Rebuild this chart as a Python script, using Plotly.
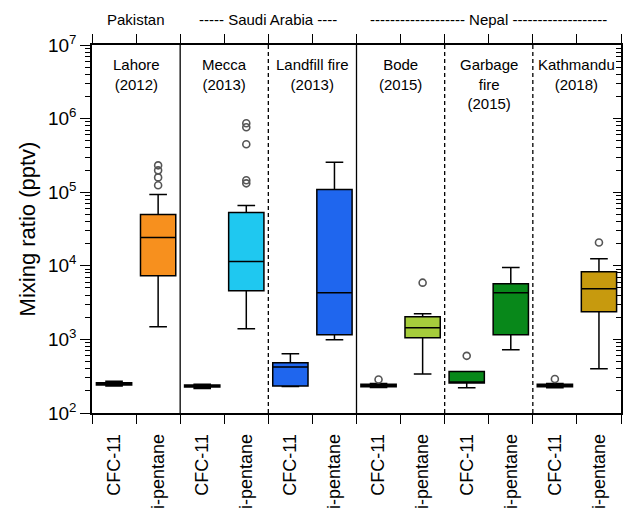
import plotly.graph_objects as go

# Sampling sites (one panel each) and the two species measured at every site
sites = ["Lahore", "Mecca", "Landfill fire", "Bode", "Garbage fire", "Kathmandu"]
site_labels = ["Lahore<br>(2012)", "Mecca<br>(2013)", "Landfill fire<br>(2013)",
               "Bode<br>(2015)", "Garbage<br>fire<br>(2015)", "Kathmandu<br>(2018)"]
species = ["CFC-11", "i-pentane"]
site_colors = ["#F7901E", "#1FC8F0", "#1F66EE", "#A6CD3C", "#08881A", "#C79A0E"]

# Country headers above the panels
countries = ["Pakistan", "----- Saudi Arabia ----",
             "------------------- Nepal -------------------"]
country_centers = [1, 4, 9]

# CFC-11 box statistics (pptv)
cfc_lo = [232, 215, 230, 222, 220, 220]
cfc_q1 = [240, 225, 233, 228, 255, 228]
cfc_med = [250, 232, 423, 236, 262, 236]
cfc_q3 = [258, 240, 480, 245, 365, 245]
cfc_hi = [270, 245, 637, 252, 365, 252]
cfc_out = [[], [], [], [285], [598], [290]]

# i-pentane box statistics (pptv)
pen_lo = [1485, 1390, 988, 340, 722, 398]
pen_q1 = [7350, 4590, 1156, 1050, 1156, 2380]
pen_med = [24200, 11400, 4320, 1440, 4310, 4890]
pen_q3 = [49900, 53100, 109000, 2030, 5720, 8330]
pen_hi = [93300, 66100, 255000, 2230, 9450, 12500]
pen_out = [[231800, 198000, 159000, 124000],
           [865000, 764000, 448000, 145000, 132000],
           [], [5900], [], [20700]]

# Panel separators: position and line style
dividers = [2, 4, 6, 8, 10]
divider_dash = ["solid", "dash", "solid", "dash", "dash"]

fig = go.Figure()

for i, site in enumerate(sites):
    stats = [
        (cfc_lo[i], cfc_q1[i], cfc_med[i], cfc_q3[i], cfc_hi[i], cfc_out[i]),
        (pen_lo[i], pen_q1[i], pen_med[i], pen_q3[i], pen_hi[i], pen_out[i]),
    ]
    for j, (lo, q1, med, q3, hi, out) in enumerate(stats):
        xpos = 2 * i + j + 0.5
        fig.add_trace(go.Box(
            x=[xpos], q1=[q1], median=[med], q3=[q3],
            lowerfence=[lo], upperfence=[hi],
            width=0.8, whiskerwidth=0.5, boxpoints=False,
            fillcolor=site_colors[i],
            line=dict(color="black", width=1.5),
            name=f"{site} {species[j]}", showlegend=False,
        ))
        if out:
            fig.add_trace(go.Scatter(
                x=[xpos] * len(out), y=out, mode="markers",
                marker=dict(symbol="circle-open", size=7,
                            color="#555555", line=dict(width=1.6)),
                showlegend=False, hoverinfo="skip",
            ))

# Invisible anchors so the overlay axes are drawn
for xa, ya in [("x2", "y"), ("x3", "y"), ("x", "y2")]:
    fig.add_trace(go.Scatter(x=[0], y=[100], mode="markers",
                             marker=dict(opacity=0), xaxis=xa, yaxis=ya,
                             showlegend=False, hoverinfo="skip"))

tick_labels = [species[k % 2] for k in range(12)]
decades = [10 ** k for k in range(2, 8)]
decade_text = [f"10<sup>{k}</sup>" for k in range(2, 8)]
minor_vals = [m * 10 ** k for k in range(2, 7) for m in range(2, 10)]

font_family = "Liberation Sans, Arial, sans-serif"

fig.update_layout(
    width=630, height=508,
    margin=dict(l=92, r=9, t=45, b=95),
    paper_bgcolor="white", plot_bgcolor="white",
    font=dict(family=font_family, color="black"),
    xaxis=dict(
        range=[0, 12], tickmode="array", automargin=False,
        tickvals=[k + 0.5 for k in range(12)], ticktext=tick_labels,
        tickangle=-90, ticks="outside", ticklen=12, tickcolor="rgba(0,0,0,0)",
        tickfont=dict(size=18), showline=True, linecolor="black",
        linewidth=1.5, showgrid=False, zeroline=False,
    ),
    xaxis2=dict(
        overlaying="x", anchor="y", side="bottom", range=[0, 12],
        automargin=False,
        tickmode="array", tickvals=list(range(13)), ticks="outside",
        ticklen=10, tickwidth=1.3, tickcolor="black",
        showticklabels=False, showgrid=False, zeroline=False,
    ),
    xaxis3=dict(
        overlaying="x", anchor="y", side="top", range=[0, 12],
        automargin=False,
        tickmode="array", tickvals=list(range(13)), ticks="outside",
        ticklen=9, tickwidth=1.3, tickcolor="black", showline=True,
        linecolor="black", linewidth=1.5,
        showticklabels=False, showgrid=False, zeroline=False,
    ),
    yaxis=dict(
        type="log", range=[2, 7], tickmode="array", automargin=False,
        tickvals=decades, ticktext=decade_text, ticks="outside",
        ticklen=10, tickwidth=1.3, tickcolor="black",
        tickfont=dict(size=19), showline=True, linecolor="black",
        linewidth=1.5, showgrid=False, zeroline=False,
        minor=dict(tickmode="array", tickvals=minor_vals, ticks="outside",
                   ticklen=5, tickwidth=1, tickcolor="black", showgrid=False),
        title=dict(text="Mixing ratio (pptv)", font=dict(size=22), standoff=6),
    ),
    yaxis2=dict(
        type="log", range=[2, 7], overlaying="y", anchor="x", side="right",
        automargin=False,
        tickmode="array", tickvals=decades, ticks="inside", ticklen=8,
        tickwidth=1.3, tickcolor="black", showticklabels=False,
        showline=True, linecolor="black", linewidth=1.5,
        showgrid=False, zeroline=False,
        minor=dict(tickmode="array", tickvals=minor_vals, ticks="inside",
                   ticklen=5, tickwidth=1, tickcolor="black", showgrid=False),
    ),
)

for xv, dash in zip(dividers, divider_dash):
    fig.add_shape(type="line", xref="x", yref="paper", x0=xv, x1=xv, y0=0, y1=1,
                  line=dict(color="black", width=1.3,
                            dash="solid" if dash == "solid" else "4px,3px"))

for i, lab in enumerate(site_labels):
    fig.add_annotation(x=2 * i + 1, y=0.975, xref="x", yref="paper",
                       text=lab, showarrow=False, yanchor="top",
                       font=dict(size=15))

for name, cx in zip(countries, country_centers):
    fig.add_annotation(x=cx, y=1.068, xref="x", yref="paper", text=name,
                       showarrow=False, yanchor="middle", font=dict(size=15))

fig.write_html("out.html")
